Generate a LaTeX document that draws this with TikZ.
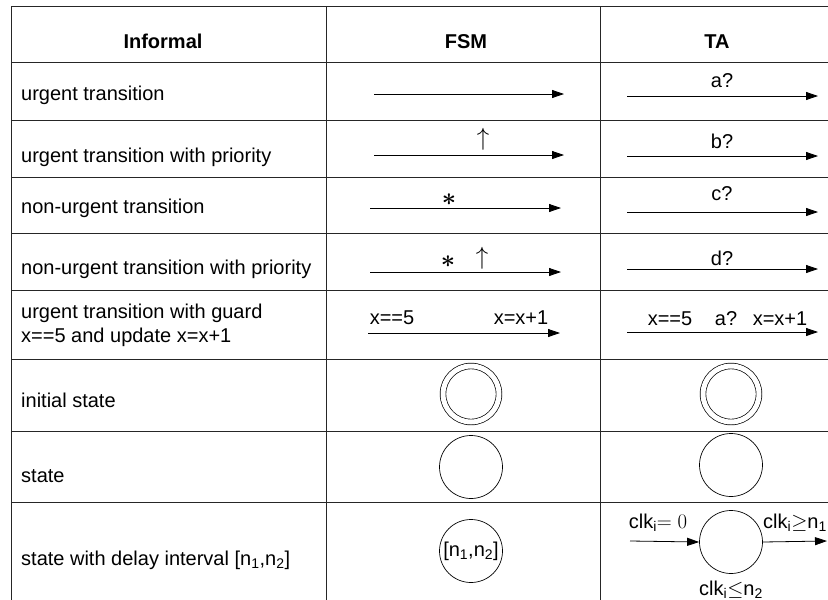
\documentclass[tikz,border=0pt]{standalone}
\usepackage{fontspec}
\setmainfont{Liberation Sans}
\usepackage{amsmath}
\usetikzlibrary{arrows.meta,positioning}

\tikzset{
  tabline/.style={line width=1pt, black!85},
  head/.style={anchor=base, inner sep=0pt, font=\fontsize{20}{24}\selectfont\bfseries},
  lbl/.style={anchor=base west, inner sep=0pt},
  lab/.style={anchor=base, inner sep=0pt},
  upsym/.style={inner sep=0pt, font=\fontsize{24}{26}\selectfont},
  astsym/.style={inner sep=0pt, font=\fontsize{44}{46}\selectfont\boldmath},
  st/.style={circle, draw, line width=0.7pt, minimum size=63pt, inner sep=0pt},
  ini/.style={st, minimum size=56pt, double, double distance=5pt},
  tr/.style={->, line width=0.8pt},
}

\begin{document}
\begin{tikzpicture}[x=1pt, y=-1pt, >={Triangle[length=12pt,width=8pt]}, font=\fontsize{20}{24}\selectfont]
\useasboundingbox (0,0) rectangle (828,600);
\fill[white] (0,0) rectangle (828,600);

\foreach \y in {6,62,120,177,233,290,359,431,502}
  \draw[tabline] (11,\y) -- (828,\y);
\foreach \x in {11,326,600}
  \draw[tabline] (\x,6) -- (\x,600);

\node[head] (hinf) at (163,48) {Informal};
\node[head] (hfsm) at (466,48) {FSM};
\node[head] (hta) at (717,48) {TA};

\node[lbl] (r1) at (21,100) {urgent transition};
\node[lbl] (r2) at (21,162) {urgent transition with priority};
\node[lbl] (r3) at (21,213) {non-urgent transition};
\node[lbl] (r4) at (21,274) {non-urgent transition with priority};
\node[lbl] (r5) at (21,318) {urgent transition with guard};
\node[lbl] (r5b) at (21,342) {x==5 and update x=x+1};
\node[lbl] (r6) at (21,407) {initial state};
\node[lbl] (r7) at (21,482) {state};
\node[lbl] (r8) at (21,565) {state with delay interval [n\textsubscript{1},n\textsubscript{2}]};

% FSM column
\coordinate (f1s) at (374,94);  \coordinate (f1e) at (564,94);
\coordinate (f2s) at (374,155); \coordinate (f2e) at (564,155);
\coordinate (f3s) at (370,208); \coordinate (f3e) at (561,208);
\coordinate (f4s) at (370,272); \coordinate (f4e) at (561,272);
\coordinate (f5s) at (368,333); \coordinate (f5e) at (560,333);
\foreach \i in {1,...,5}
  \draw[tr] (f\i s) -- (f\i e);
\node[upsym] (up2) at (483,139) {$\uparrow$};
\node[astsym] (ast3) at (449,200) {$\ast$};
\node[astsym] (ast4) at (448,262) {$\ast$};
\node[upsym] (up4) at (482,258) {$\uparrow$};
\node[lab] (g5) at (392,324) {x==5};
\node[lab] (u5) at (521,324) {x=x+1};

% TA column
\foreach \y/\n in {96/1, 156/2, 212/3, 269/4, 332/5}{
  \coordinate (t\n s) at (627,\y);
  \coordinate (t\n e) at (818,\y);
  \draw[tr] (t\n s) -- (t\n e);
}
\node[lab] (a1) at (722,87) {a?};
\node[lab] (a2) at (722,148) {b?};
\node[lab] (a3) at (722,200) {c?};
\node[lab] (a4) at (722,265) {d?};
\node[lab] (g5t) at (670,325) {x==5};
\node[lab] (a5) at (726,325) {a?};
\node[lab] (u5t) at (780,325) {x=x+1};

% states
\node[ini] (fi) at (471,394) {};
\node[ini] (ti) at (731,394) {};
\node[st] (fs) at (471,467) {};
\node[st] (ts) at (731,465) {};
\node[st] (fd) at (471,551) {[n\textsubscript{1},n\textsubscript{2}]};
\node[st] (td) at (731,542) {};
\coordinate (din) at (630,541);
\coordinate (dout) at (827,541);
\draw[tr] (din) -- (td.west);
\draw[tr] (td.east) -- (dout);
\node[lab] (c0) at (658,528) {clk\textsubscript{i}$=0$};
\node[lab, anchor=base west] (c1) at (763,528) {clk\textsubscript{i}$\geq$n\textsubscript{1}};
\node[lab] (c2) at (731,595) {clk\textsubscript{i}$\leq$n\textsubscript{2}};
\end{tikzpicture}
\end{document}
